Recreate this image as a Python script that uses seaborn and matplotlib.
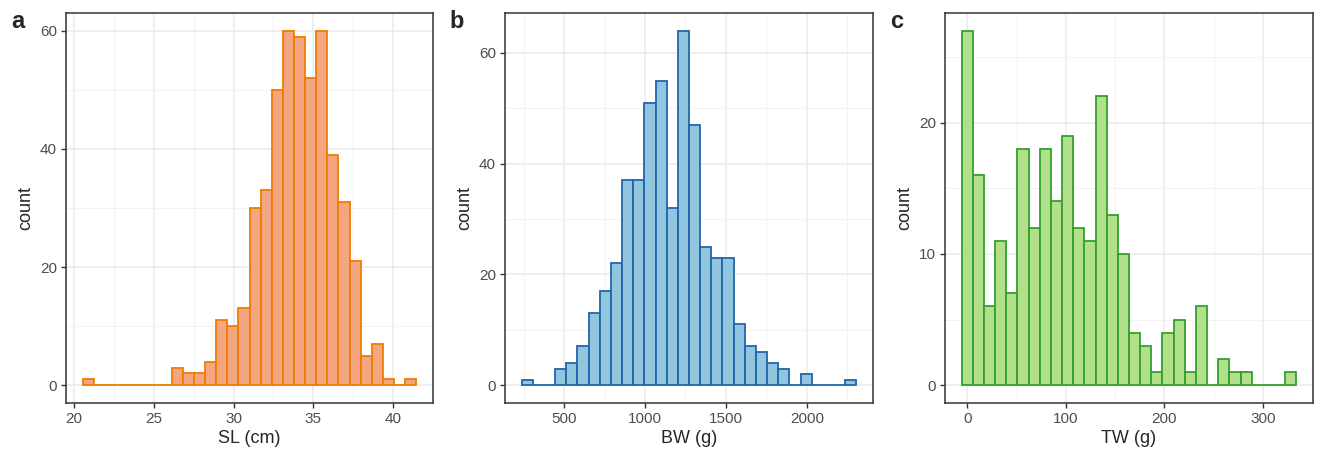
import numpy as np
import seaborn as sns
from matplotlib import pyplot as plt
from matplotlib.ticker import MultipleLocator

# counts per bin (30 bins each)
sl_counts = [1, 0, 0, 0, 0, 0, 0, 0, 3, 2, 2, 4, 11, 10, 13, 30, 33, 50, 60, 59,
             52, 60, 39, 31, 21, 5, 7, 1, 0, 1]
sl_range = (20.56, 41.44)

bw_counts = [1, 0, 0, 3, 4, 7, 13, 17, 22, 37, 37, 51, 55, 32, 64, 47, 25, 23, 23, 11,
             7, 6, 4, 3, 0, 2, 0, 0, 0, 1]
bw_range = (238.6, 2304.7)

tw_counts = [27, 16, 6, 11, 7, 18, 12, 18, 14, 19, 12, 11, 22, 13, 10, 4, 3, 1, 4, 5,
             1, 6, 0, 2, 1, 1, 0, 0, 0, 1]
tw_range = (-5.75, 333.8)

panels = [
    ("a", "SL (cm)", sl_counts, sl_range, "#F4A582", "#F07C00", 5, 20, 10),
    ("b", "BW (g)", bw_counts, bw_range, "#92C5DE", "#2166AC", 500, 20, 10),
    ("c", "TW (g)", tw_counts, tw_range, "#B2DF8A", "#33A02C", 100, 10, 5),
]

sns.set_style("white")
plt.rcParams['font.family'] = ['Liberation Sans', 'DejaVu Sans']

fig = plt.figure(figsize=(13.2, 4.55), dpi=100)
W, H = 1320, 455
boxes = [(66, 433), (505, 873), (945, 1313)]
top, bottom = 13, 403

for (tag, xlab, counts, rng, fill, edge, xmaj, ymaj, ymin), (l, r) in zip(panels, boxes):
    ax = fig.add_axes([l / W, 1 - bottom / H, (r - l) / W, (bottom - top) / H])
    n = len(counts)
    w = (rng[1] - rng[0]) / n
    centers = np.linspace(rng[0] + w / 2, rng[1] - w / 2, n)
    sns.histplot(x=centers, weights=counts, bins=n, binrange=rng, ax=ax,
                 color=fill, edgecolor=edge, linewidth=1.3, alpha=1, zorder=3)
    ymax = max(counts)
    ax.set_ylim(-0.05 * ymax, 1.05 * ymax)
    span = rng[1] - rng[0]
    ax.set_xlim(rng[0] - 0.05 * span, rng[1] + 0.05 * span)
    ax.xaxis.set_major_locator(MultipleLocator(xmaj))
    ax.xaxis.set_minor_locator(MultipleLocator(xmaj / 2))
    ax.yaxis.set_major_locator(MultipleLocator(ymaj))
    ax.yaxis.set_minor_locator(MultipleLocator(ymin))
    ax.grid(which="major", color="#EBEBEB", linewidth=1.1, zorder=0)
    ax.grid(which="minor", color="#F2F2F2", linewidth=0.7, zorder=0)
    ax.set_axisbelow(True)
    ax.tick_params(which="major", bottom=True, left=True, length=3.5, width=1,
                   color="#333333", labelsize=11, labelcolor="#4D4D4D", pad=3)
    ax.tick_params(which="minor", bottom=False, left=False, length=0)
    for s in ax.spines.values():
        s.set_color("#333333")
        s.set_linewidth(1.1)
    ax.set_xlabel(xlab, fontsize=13, labelpad=3)
    ax.set_ylabel("count", fontsize=13, labelpad=4)
    fig.text((l - 48) / W, 1 - 22 / H, tag, fontsize=17, fontweight="bold",
             ha="center", va="center")

fig.savefig("out.png", dpi=100)
